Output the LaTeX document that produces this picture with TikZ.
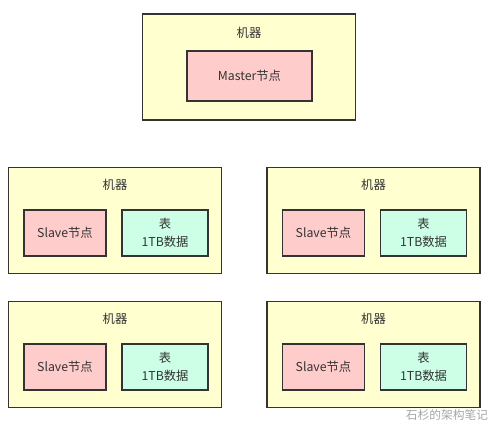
\documentclass[tikz,border=0pt]{standalone}
\usepackage{fontspec}
\setmainfont{Noto Sans CJK SC}
\usetikzlibrary{positioning}
\definecolor{machinefill}{HTML}{FFFFD0}
\definecolor{slavefill}{HTML}{FFCCCC}
\definecolor{tablefill}{HTML}{CCFFE6}
\definecolor{textgray}{HTML}{333333}
\tikzset{
  box/.style={draw=black!80, line width=1.5pt, inner sep=0pt},
  machine/.style={box, fill=machinefill, minimum width=6.39cm, minimum height=3.18cm},
  slave/.style={box, fill=slavefill, minimum width=2.46cm, minimum height=1.38cm},
  datatable/.style={box, fill=tablefill, minimum width=2.58cm, minimum height=1.38cm, align=center},
  txt/.style={text=textgray, font=\fontsize{10.5}{15}\selectfont}
}

\begin{document}
\begin{tikzpicture}[x=0.03cm,y=-0.03cm]
  \useasboundingbox (0,0) rectangle (500,435);
  % master machine
  \node[machine] (mtop) at (249,67) {};
  \node[txt] (mtoplabel) at (249,33) {机器};
  \node[box, fill=slavefill, minimum width=3.75cm, minimum height=1.5cm, txt] (master) at (249.5,76) {Master节点};
  % slave machines
  \foreach \n/\cx/\cy in {1/115/220.5, 2/373.5/220.5, 3/115/354.5, 4/373.5/354.5} {
    \node[machine] (m\n) at (\cx,\cy) {};
    \node[txt] (mlabel\n) at (\cx,\cy-35.5) {机器};
    \node[slave, txt] (slave\n) at (\cx-50,\cy+12.5) {Slave节点};
    \node[datatable, txt] (table\n) at (\cx+50,\cy+12.5) {表\\1TB数据};
  }
  % watermark
  \node[text=black!35, font=\fontsize{10}{12}\selectfont] (mark) at (447,415) {石杉的架构笔记};
\end{tikzpicture}
\end{document}
